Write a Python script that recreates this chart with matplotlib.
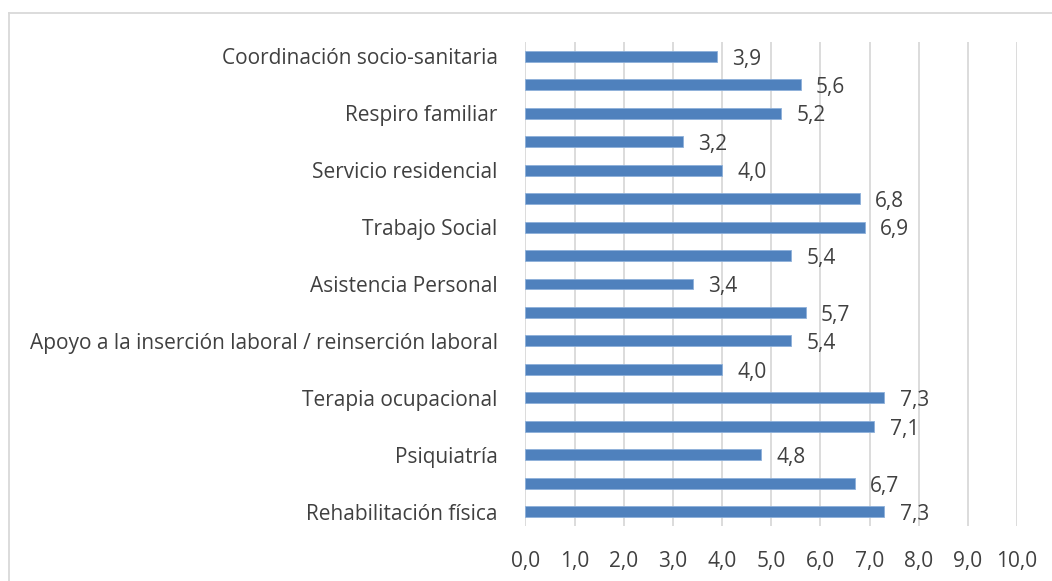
import matplotlib
matplotlib.use("Agg")
import matplotlib.pyplot as plt
from matplotlib.lines import Line2D

categories = [
    "Rehabilitación física", "", "Psiquiatría", "", "Terapia ocupacional", "",
    "Apoyo a la inserción laboral / reinserción laboral", "", "Asistencia Personal", "",
    "Trabajo Social", "", "Servicio residencial", "", "Respiro familiar", "",
    "Coordinación socio-sanitaria",
]
values = [7.3, 6.7, 4.8, 7.1, 7.3, 4.0, 5.4, 5.7, 3.4, 5.4, 6.9, 6.8, 4.0, 3.2, 5.2, 5.6, 3.9]
xticks = [0, 1, 2, 3, 4, 5, 6, 7, 8, 9, 10]

plt.rcParams['font.family'] = ['Open Sans', 'DejaVu Sans']
text_color = '#404040'
fs = 15

fig = plt.figure(figsize=(10.52, 5.81), dpi=100)
ax = fig.add_axes([0.4995, 0.0947, 0.4672, 0.833])

y = list(range(len(values)))
ax.barh(y, values, height=0.385, color='#4F81BD', edgecolor='#8DB0DA', linewidth=0.6, zorder=3)

for yi, v in zip(y, values):
    ax.annotate(f"{v:.1f}".replace('.', ','), xy=(v, yi), xytext=(11, -2),
                textcoords='offset points', ha='left', va='center',
                fontsize=fs, color=text_color)

ax.set_xlim(0, 10)
ax.set_ylim(-0.5, len(values) - 0.5)
ax.set_xticks(xticks)
ax.set_xticklabels([f"{t:.1f}".replace('.', ',') for t in xticks], fontsize=fs, color=text_color)
ax.set_yticks(y)
ax.set_yticklabels(categories, fontsize=fs, color=text_color)
ax.tick_params(axis='both', length=0)
ax.tick_params(axis='x', pad=18)
ax.tick_params(axis='y', pad=20)
for s in ax.spines.values():
    s.set_visible(False)
ax.xaxis.grid(True, color='#D9D9D9', linewidth=1.3, zorder=0)
ax.set_axisbelow(True)

# chart-area border (only top and left edges fall inside the image)
top = 1 - 12.5 / 581
left = 8.5 / 1052
fig.add_artist(Line2D([left, 1.01], [top, top], transform=fig.transFigure,
                      color='#D9D9D9', linewidth=1.3))
fig.add_artist(Line2D([left, left], [-0.01, top], transform=fig.transFigure,
                      color='#D9D9D9', linewidth=1.3))

fig.savefig("out.png", dpi=100, facecolor='white')
